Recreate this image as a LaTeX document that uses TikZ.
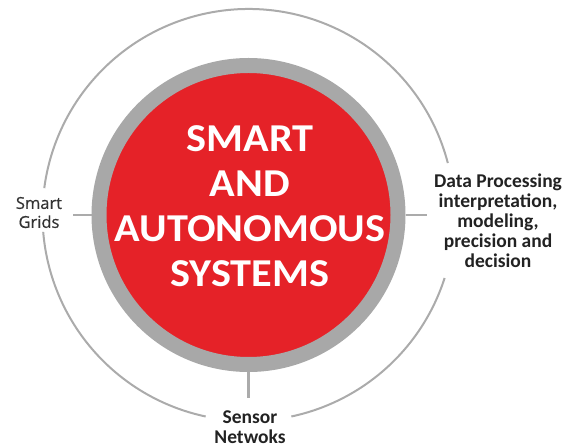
\documentclass[tikz,border=0pt]{standalone}
\usepackage{fontspec}
\setmainfont{Carlito}
\newfontfamily\gridfont[FakeBold=0.5]{Open Sans}
\newfontfamily\hubfont[FakeStretch=1.07]{Carlito}
\definecolor{hubred}{HTML}{E52228}
\definecolor{ringgray}{HTML}{A8A8A8}
\definecolor{linegray}{HTML}{ABABAB}
\definecolor{labeltext}{HTML}{222222}
\definecolor{gridtext}{HTML}{333333}
\begin{document}
\begin{tikzpicture}[x=1pt,y=1pt,
  hub/.style={circle,fill=hubred,draw=ringgray,line width=15pt,minimum size=299pt,inner sep=0pt},
  hubtext/.style={text=white,font=\hubfont\fontsize{39.5}{45}\selectfont\bfseries,align=center,inner sep=0pt},
  sidelabel/.style={text=labeltext,font=\fontsize{19.5}{20}\selectfont\bfseries,align=center,inner sep=0pt},
  gridlabel/.style={text=gridtext,font=\gridfont\fontsize{16.5}{19}\selectfont,align=center,inner sep=0pt},
  orbit/.style={draw=linegray,line width=2pt},
  stub/.style={draw=linegray,line width=2.2pt}]
\useasboundingbox (0,0) rectangle (581,447);
\coordinate (c) at (248.5,232);
% outer orbit arcs
\draw[orbit] (c) ++(14.6:206) arc[start angle=14.6,end angle=172.5,radius=206];
\draw[orbit] (c) ++(184.7:206) arc[start angle=184.7,end angle=258,radius=206];
\draw[orbit] (c) ++(282:206) arc[start angle=282,end angle=342.2,radius=206];
% hub
\node[hub] (hub) at (c) {};
\node[hubtext] (title) at (250,240.5) {SMART\\AND\\AUTONOMOUS\\SYSTEMS};
% stubs
\coordinate (lend) at (73,232);
\coordinate (rend) at (427,232);
\coordinate (bend) at (248.5,49);
\draw[stub] (hub.west) -- (lend);
\draw[stub] (hub.east) -- (rend);
\draw[stub] (hub.south) -- (bend);
% labels
\node[gridlabel] (grids) at (39,234.5) {Smart\\Grids};
\node[sidelabel] (data) at (498,226) {Data Processing\\interpretation,\\modeling,\\precision and\\decision};
\node[sidelabel] (sensor) at (250,20) {Sensor\\Netwoks};
\end{tikzpicture}
\end{document}
